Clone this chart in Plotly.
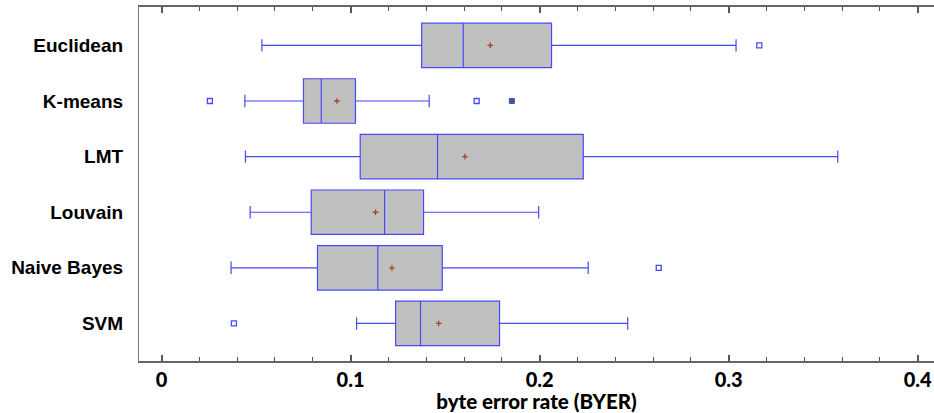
import plotly.graph_objects as go

categories = ["Euclidean", "K-means", "LMT", "Louvain", "Naive Bayes", "SVM"]
lower_whisker = [0.0531, 0.0441, 0.0444, 0.0469, 0.0368, 0.1032]
q1_vals = [0.1376, 0.0751, 0.1051, 0.0792, 0.0825, 0.1238]
median_vals = [0.1596, 0.0845, 0.1460, 0.1180, 0.1144, 0.1370]
q3_vals = [0.2063, 0.1026, 0.2231, 0.1386, 0.1485, 0.1788]
upper_whisker = [0.3039, 0.1416, 0.3577, 0.1995, 0.2257, 0.2466]
mean_vals = [0.1739, 0.0928, 0.1605, 0.1132, 0.1219, 0.1466]

outlier_cats = ["Euclidean", "K-means", "K-means", "Naive Bayes", "SVM"]
outlier_vals = [0.3162, 0.0256, 0.1667, 0.2630, 0.0383]
far_outlier_cats = ["K-means"]
far_outlier_vals = [0.1853]

x_ticks = [0, 0.1, 0.2, 0.3, 0.4]
x_tick_labels = ["0", "0.1", "0.2", "0.3", "0.4"]

blue = "#4848ff"

fig = go.Figure()
fig.add_trace(go.Box(
    y=categories,
    q1=q1_vals, median=median_vals, q3=q3_vals,
    lowerfence=lower_whisker, upperfence=upper_whisker,
    orientation="h",
    fillcolor="#c0c0c0",
    line=dict(color=blue, width=1.2),
    width=0.8,
    whiskerwidth=0.28,
    boxpoints=False,
    showlegend=False,
    hoverinfo="skip",
))
fig.add_trace(go.Scatter(
    x=mean_vals, y=categories, mode="markers",
    marker=dict(symbol="cross-thin", size=4, line=dict(color="#a8402a", width=1.3)),
    showlegend=False, hoverinfo="skip",
))
fig.add_trace(go.Scatter(
    x=outlier_vals, y=outlier_cats, mode="markers",
    marker=dict(symbol="square-open", size=5, color=blue, line=dict(color=blue, width=1.3)),
    showlegend=False, hoverinfo="skip",
))
fig.add_trace(go.Scatter(
    x=far_outlier_vals, y=far_outlier_cats, mode="markers",
    marker=dict(symbol="square", size=5, color="#3a6a4a", line=dict(color=blue, width=1)),
    showlegend=False, hoverinfo="skip",
))

fig.update_layout(
    width=934, height=413,
    margin=dict(l=139, r=0, t=7, b=52),
    plot_bgcolor="white", paper_bgcolor="white",
    xaxis=dict(
        range=[-0.0119, 0.4086],
        tickvals=x_ticks, ticktext=x_tick_labels,
        ticks="inside", ticklen=6, tickwidth=1.5, tickcolor="#555",
        minor=dict(dtick=0.02, ticks="inside", ticklen=4, tickwidth=1, tickcolor="#555", showgrid=False),
        showgrid=False, zeroline=False,
        showline=True, linecolor="#666", linewidth=1.5, mirror="ticks",
        tickfont=dict(family="Lato", size=20, color="black", weight=900),
        title=dict(text="byte error rate (BYER)", standoff=5,
                   font=dict(family="Lato", size=20.5, color="black", weight=900)),
    ),
    yaxis=dict(
        type="category", categoryarray=categories,
        range=[5.675, -0.69],
        showgrid=False, zeroline=False,
        showline=True, linecolor="#777", linewidth=1.2,
        ticks="", ticklabelstandoff=11,
        tickfont=dict(family="Liberation Sans", size=19, color="black", weight="bold"),
    ),
)

fig.write_html("out.html")
